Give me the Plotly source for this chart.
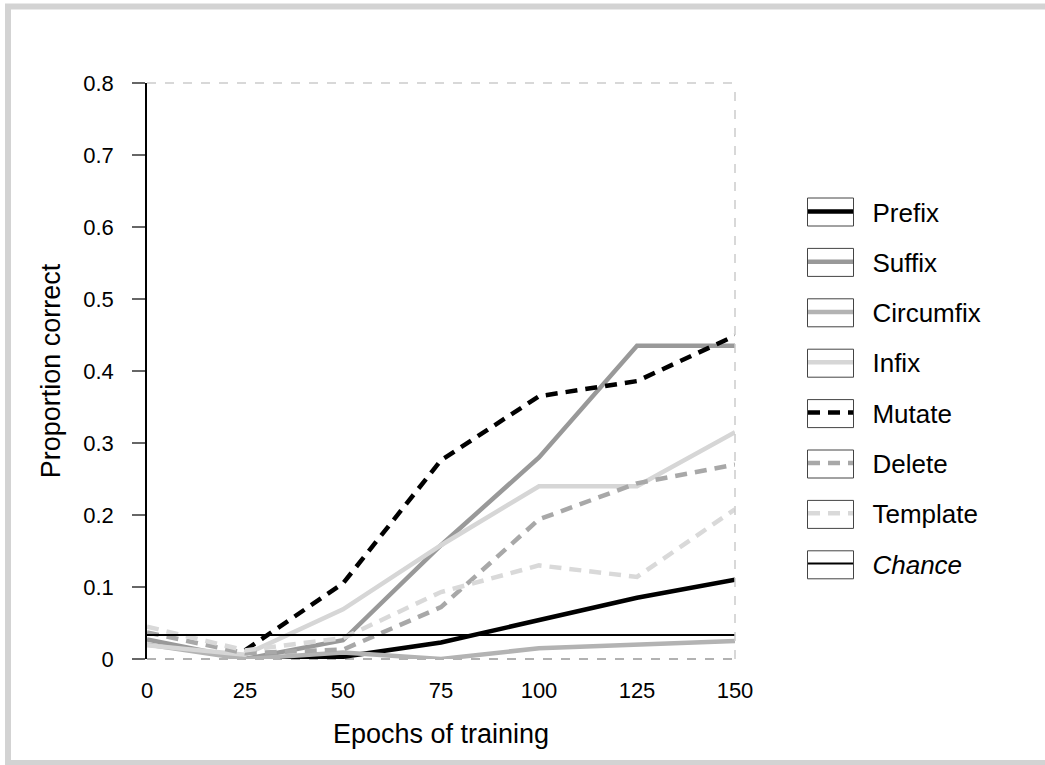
import plotly.graph_objects as go

epochs = [0, 25, 50, 75, 100, 125, 150]
prefix = [None, 0.0, 0.003, 0.023, 0.054, 0.085, 0.110]
suffix = [0.027, 0.0, 0.026, 0.158, 0.280, 0.435, 0.435]
circumfix = [0.020, 0.0, 0.009, 0.0, 0.015, 0.020, 0.025]
infix = [0.019, 0.006, 0.069, 0.158, 0.240, 0.240, 0.315]
mutate = [None, 0.012, 0.105, 0.276, 0.365, 0.386, 0.449]
delete = [0.037, 0.008, 0.013, 0.072, 0.194, 0.244, 0.270]
template = [0.045, 0.012, 0.029, 0.093, 0.130, 0.114, 0.208]
chance_x = [0, 150]
chance_y = [1 / 30, 1 / 30]

DASH = "12px,8px"
series = [
    ("Prefix", prefix, "#000000", "solid", 4.5),
    ("Suffix", suffix, "#999999", "solid", 4.5),
    ("Circumfix", circumfix, "#b3b3b3", "solid", 4.5),
    ("Infix", infix, "#d6d6d6", "solid", 4.5),
    ("Mutate", mutate, "#000000", DASH, 4.5),
    ("Delete", delete, "#a8a8a8", DASH, 4.5),
    ("Template", template, "#d9d9d9", DASH, 4.5),
]

FONT = "Liberation Sans, Arial, Helvetica, sans-serif"
NB = "\u00a0\u00a0"

fig = go.Figure()
for name, vals, color, dash, w in series:
    fig.add_trace(go.Scatter(
        x=epochs, y=vals, mode="lines", name=NB + name,
        line=dict(color=color, dash=dash, width=w),
        legendgroup=name, connectgaps=False,
    ))
fig.add_trace(go.Scatter(
    x=chance_x, y=chance_y, mode="lines", name=NB + "<i>Chance</i>",
    line=dict(color="#000000", width=2), legendgroup="chance",
))

W, H = 1045, 765
L, R, T, B = 147, 310, 83, 106
pw, ph = W - L - R, H - T - B

def px(xp):
    return (xp - L) / pw

def py(yp):
    return (H - B - yp) / ph

shapes = [
    dict(type="line", xref="paper", yref="paper", x0=0, x1=1, y0=1, y1=1,
         line=dict(color="#cccccc", width=1.5, dash="dash")),
    dict(type="line", xref="paper", yref="paper", x0=1, x1=1, y0=0, y1=1,
         line=dict(color="#cccccc", width=1.5, dash="dash")),
    dict(type="line", xref="paper", yref="paper", x0=0, x1=1, y0=0, y1=0,
         line=dict(color="#999999", width=1.5, dash="dash"), layer="below"),
    dict(type="rect", xref="paper", yref="paper",
         x0=px(8), x1=px(1060), y0=py(6.5), y1=py(763),
         line=dict(color="#d3d3d3", width=6)),
]

# decorative boxes around legend keys
n_items = len(series) + 1
first_c, step = 212, 50.4
for i in range(n_items):
    c = first_c + step * i
    shapes.append(dict(type="rect", xref="paper", yref="paper",
                       x0=px(807.5), x1=px(853.5), y0=py(c - 14), y1=py(c + 14),
                       line=dict(color="#444444", width=1)))

fig.update_layout(
    width=W, height=H,
    margin=dict(l=L, r=R, t=T, b=B),
    paper_bgcolor="white", plot_bgcolor="white",
    font=dict(family=FONT, color="#000000", size=22),
    showlegend=True,
    legend=dict(
        x=px(803), y=py(188), xanchor="left", yanchor="top",
        font=dict(size=26, family=FONT), tracegroupgap=13.5,
        itemwidth=45, bgcolor="rgba(0,0,0,0)",
    ),
    shapes=shapes,
)
fig.update_xaxes(
    range=[0, 150], tickvals=[0, 25, 50, 75, 100, 125, 150],
    showgrid=False, zeroline=False, showline=False,
    ticks="", ticklabelstandoff=16, tickfont=dict(size=22),
    title=dict(text="Epochs of training", font=dict(size=27), standoff=22),
)
fig.update_yaxes(
    range=[0, 0.8], tickvals=[0, 0.1, 0.2, 0.3, 0.4, 0.5, 0.6, 0.7, 0.8],
    ticktext=["0", "0.1", "0.2", "0.3", "0.4", "0.5", "0.6", "0.7", "0.8"],
    showgrid=False, zeroline=False, showline=True, linecolor="#000000", linewidth=1.5,
    ticks="outside", ticklen=13, tickcolor="#666666", tickwidth=1.5,
    ticklabelstandoff=14, tickfont=dict(size=22),
    title=dict(text="Proportion correct", font=dict(size=27), standoff=15),
)

fig.write_html("out.html")
